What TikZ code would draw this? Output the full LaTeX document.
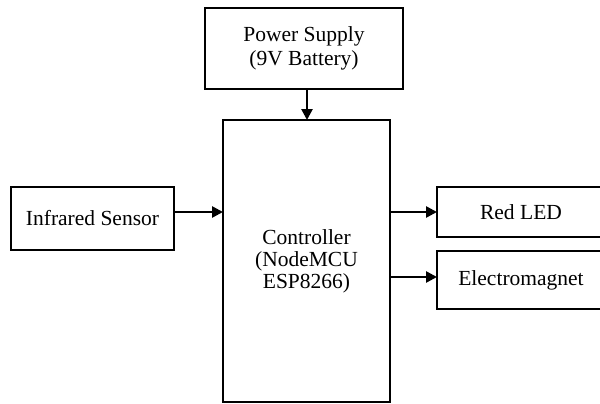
\documentclass[tikz,border=0pt]{standalone}
\usepackage{fontspec}
\setmainfont{Liberation Serif}
\usetikzlibrary{arrows.meta}
\begin{document}
\begin{tikzpicture}[x=1pt,y=-1pt,
  blk/.style={draw=black, line width=2.6pt, rectangle, inner sep=0pt, outer sep=0pt,
    align=center, font=\fontsize{21.5}{24.5}\selectfont},
  arr/.style={line width=2.6pt, -{Triangle[length=11pt,width=11pt]}}]
\useasboundingbox (0,0) rectangle (600,404);
\clip (0,0) rectangle (600,404);
\fill[white] (0,0) rectangle (600,404);
\node[blk, minimum width=198pt, minimum height=81pt] (ps) at (304,48.5) {Power Supply\\(9V Battery)};
\node[blk, minimum width=167pt, minimum height=282pt, font=\fontsize{21.5}{22}\selectfont] (ctrl) at (306.5,261) {Controller\\(NodeMCU\\ESP8266)};
\node[blk, minimum width=163pt, minimum height=63pt] (ir) at (92.5,218.5) {Infrared Sensor};
\node[blk, minimum width=168pt, minimum height=50pt] (led) at (521,212) {Red LED};
\node[blk, minimum width=168pt, minimum height=58pt] (em) at (521,280) {Electromagnet};
\draw[arr] (ps.south -| 307,0) -- (ctrl.north -| 307,0);
\draw[arr] ([yshift=6.5pt]ir.east) -- (ctrl.west |- 0,212);
\draw[arr] (ctrl.east |- led.west) -- (led.west);
\draw[arr] (ctrl.east |- 0,277) -- ([yshift=3pt]em.west);
\end{tikzpicture}
\end{document}
